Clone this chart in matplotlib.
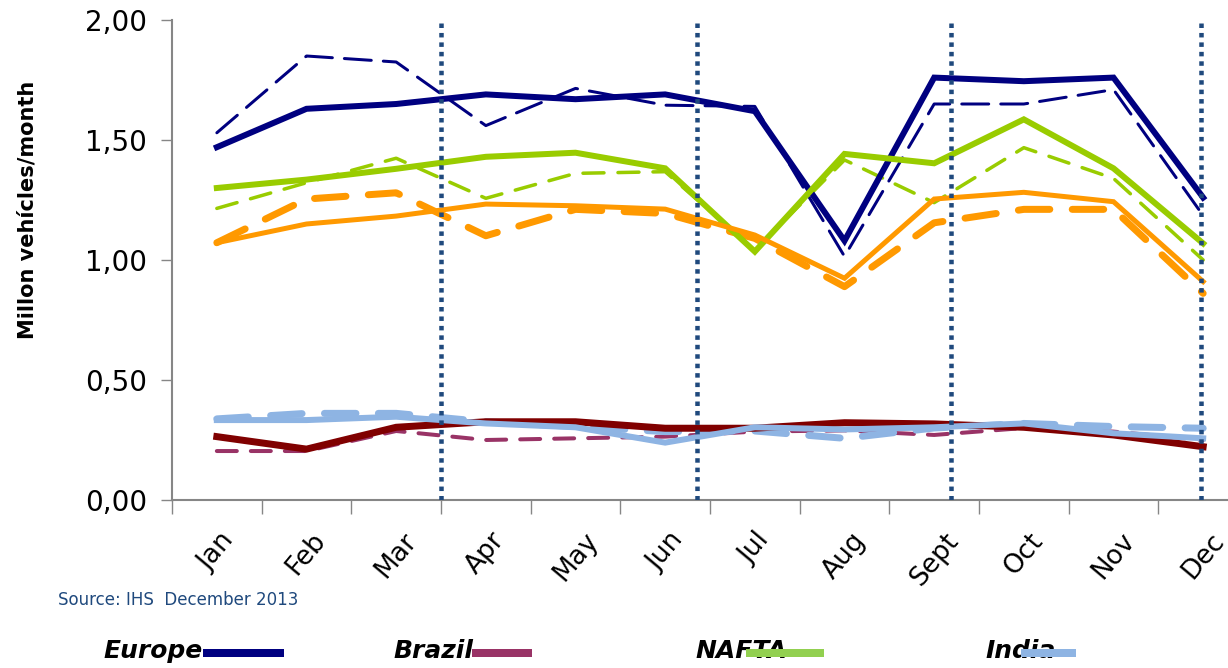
import matplotlib
matplotlib.use("Agg")
import matplotlib.pyplot as plt
from matplotlib.lines import Line2D

months = ["Jan", "Feb", "Mar", "Apr", "May", "Jun", "Jul", "Aug", "Sept", "Oct", "Nov", "Dec"]

europe_solid = [1.47, 1.63, 1.65, 1.69, 1.67, 1.69, 1.62, 1.08, 1.76, 1.745, 1.76, 1.26]
europe_dash = [1.53, 1.85, 1.825, 1.56, 1.715, 1.645, 1.64, 1.015, 1.65, 1.65, 1.71, 1.185]
nafta_solid = [1.30, 1.335, 1.38, 1.43, 1.447, 1.382, 1.035, 1.442, 1.403, 1.586, 1.382, 1.069]
nafta_dash = [1.215, 1.322, 1.424, 1.257, 1.361, 1.368, 1.04, 1.417, 1.239, 1.468, 1.34, 1.00]
orange_solid = [1.072, 1.15, 1.183, 1.233, 1.226, 1.212, 1.104, 0.924, 1.254, 1.282, 1.243, 0.91]
orange_dash = [1.072, 1.254, 1.28, 1.101, 1.211, 1.194, 1.09, 0.889, 1.155, 1.211, 1.211, 0.861]
brazil_solid = [0.264, 0.212, 0.303, 0.326, 0.326, 0.299, 0.299, 0.322, 0.317, 0.303, 0.271, 0.222]
brazil_dash = [0.204, 0.204, 0.2875, 0.25, 0.257, 0.264, 0.285, 0.29, 0.271, 0.30, 0.285, 0.25]
india_solid = [0.333, 0.333, 0.347, 0.319, 0.303, 0.239, 0.303, 0.294, 0.303, 0.319, 0.278, 0.257]
india_dash = [0.338, 0.361, 0.361, 0.326, 0.306, 0.285, 0.2875, 0.257, 0.30, 0.319, 0.306, 0.299]

quarter_marks = [2.5, 5.36, 8.19, 10.98]
yticks = [0.0, 0.5, 1.0, 1.5, 2.0]
ytick_labels = ["0,00", "0,50", "1,00", "1,50", "2,00"]

legend_names = ["Europe", "Brazil", "NAFTA", "India"]
legend_colors = ["#000080", "#993366", "#92D050", "#8EB4E3"]

W, H = 1228, 668
fig = plt.figure(figsize=(W / 100, H / 100), dpi=100)
ax = fig.add_axes([172 / W, 168 / H, 1076 / W, 480 / H])

x = list(range(len(months)))
PX = 72 / 100  # points per pixel

def plot(vals, color, lw_px, dashes=None, z=3):
    kw = dict(color=color, lw=lw_px * PX, zorder=z, solid_joinstyle="miter")
    if dashes is not None:
        ln, = ax.plot(x, vals, linestyle=(0, dashes), dash_capstyle="round", **kw)
    else:
        ln, = ax.plot(x, vals, **kw)
    return ln

# dashed (previous year) series
plot(europe_dash, "#000080", 3.0, (9, 4))
plot(nafta_dash, "#99CC00", 3.5, (6, 4))
plot(orange_dash, "#FF9900", 7.0, (4.5, 3.2))
plot(brazil_dash, "#993366", 4.0, (5, 3.5))
plot(india_dash, "#8EB4E3", 7.0, (4.5, 3.2))

# solid series
plot(europe_solid, "#000080", 6.0)
plot(nafta_solid, "#99CC00", 6.0)
plot(orange_solid, "#FF9900", 5.0)
plot(brazil_solid, "#800000", 7.0)
plot(india_solid, "#8EB4E3", 6.0)

for q in quarter_marks:
    ax.plot([q, q], [0, 1.99], color="#1F497D", lw=4.5 * PX,
            linestyle=(0, (1, 1.1)), dash_capstyle="butt", zorder=4)

ax.set_xlim(-0.5, 11.5)
ax.set_ylim(0, 2.0)

ax.set_yticks(yticks)
ax.set_yticklabels(ytick_labels, fontsize=20, color="black")
ax.tick_params(axis="y", length=8, width=1, color="#868686", pad=10)

ax.set_xticks([i - 0.5 for i in range(13)])
ax.set_xticklabels([])
ax.tick_params(axis="x", which="major", length=10, width=1, color="#868686", direction="out")
ax.set_xticks(x, minor=True)
ax.set_xticklabels(months, minor=True, fontsize=19, rotation=50,
                   ha="center", va="top")
ax.tick_params(axis="x", which="minor", length=0, pad=20)

for s in ["top", "right"]:
    ax.spines[s].set_visible(False)
for s in ["left", "bottom"]:
    ax.spines[s].set_color("#868686")
    ax.spines[s].set_linewidth(1.5)

fig.text(28 / W, 1 - 210 / H, "Millon vehícles/month", rotation=90,
         fontsize=15, fontweight="bold", ha="center", va="center")

fig.text(58 / W, 1 - 600 / H, "Source: IHS  December 2013", fontsize=12,
         color="#1F497D", ha="left", va="center")

# custom legend at the bottom
leg_text_x = [103, 393, 695, 985]
leg_line = [(207, 280), (476, 528), (750, 820), (1025, 1072)]
for name, col, tx, (l0, l1) in zip(legend_names, legend_colors, leg_text_x, leg_line):
    fig.text(tx / W, 1 - 651 / H, name, fontsize=18, fontweight="bold",
             style="italic", ha="left", va="center", color="black", zorder=5)
    fig.add_artist(Line2D([l0 / W, l1 / W], [1 - 653 / H, 1 - 653 / H],
                          color=col, lw=8 * PX, zorder=6))

fig.savefig("out.png", dpi=100)
